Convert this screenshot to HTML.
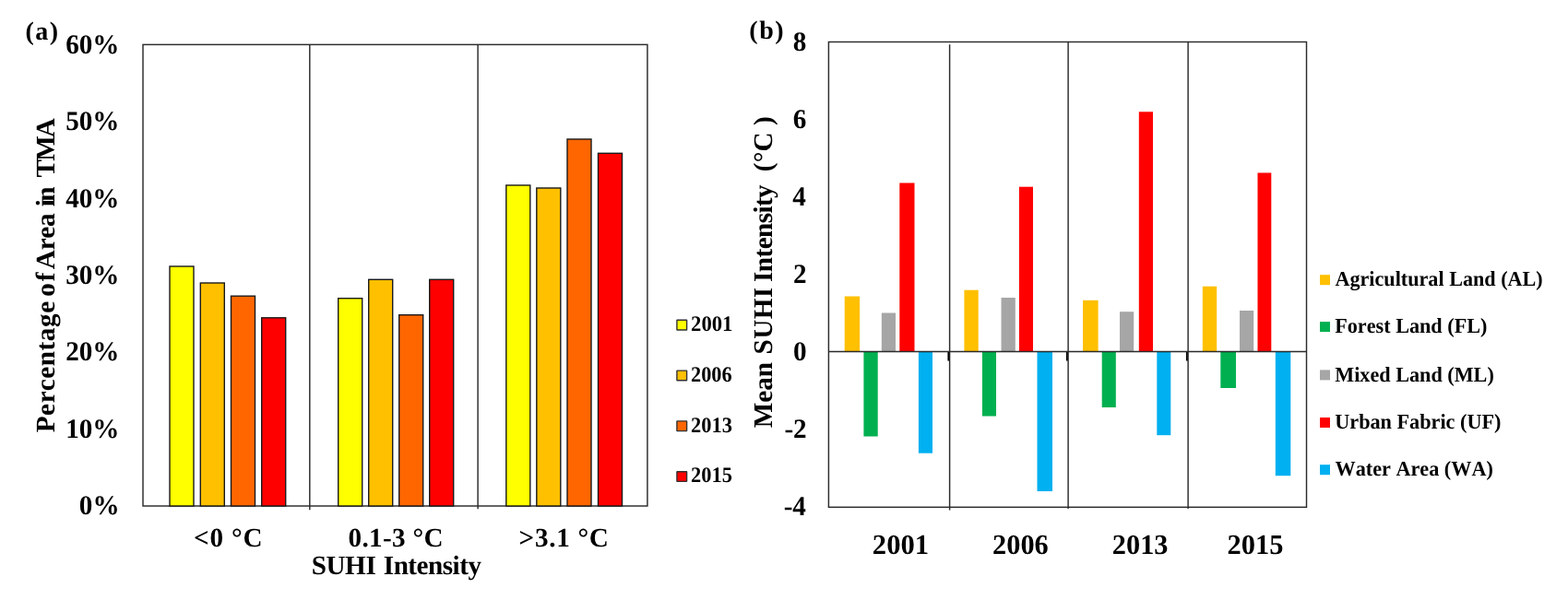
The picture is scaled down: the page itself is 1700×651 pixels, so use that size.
<!DOCTYPE html>
<html lang="en"><head><meta charset="utf-8"><title>SUHI Intensity charts</title>
<style>
html,body{margin:0;padding:0;background:#fff;}
body{width:1700px;height:651px;overflow:hidden;}
svg{display:block;}
text{font-family:"Liberation Serif","DejaVu Serif",serif;font-weight:bold;fill:#000;white-space:pre;text-rendering:geometricPrecision;}
.ln{stroke:#2b2b2b;stroke-width:1.45;fill:none;}
.bar{stroke:#1a1a1a;stroke-width:1.4;}
</style></head><body>
<svg width="1700" height="651" viewBox="0 0 1700 651">
<rect x="0" y="0" width="1700" height="651" fill="#fff"/>
<rect class="ln" x="155.0" y="48.4" width="546.9" height="500.6"/>
<line class="ln" x1="335.8" y1="48.4" x2="335.8" y2="553.3"/>
<line class="ln" x1="518.1" y1="48.4" x2="518.1" y2="552.3"/>
<rect class="bar" x="184" y="289" width="26.0" height="260.0" fill="#ffff00"/>
<rect class="bar" x="217.3" y="307" width="26.0" height="242.0" fill="#ffc000"/>
<rect class="bar" x="250.5" y="321.2" width="26.0" height="227.8" fill="#ff6600"/>
<rect class="bar" x="283.7" y="344.8" width="26.0" height="204.2" fill="#ff0000"/>
<rect class="bar" x="366.7" y="323.7" width="26.0" height="225.3" fill="#ffff00"/>
<rect class="bar" x="399.7" y="303.3" width="26.0" height="245.7" fill="#ffc000"/>
<rect class="bar" x="432.7" y="341.7" width="26.0" height="207.3" fill="#ff6600"/>
<rect class="bar" x="465.7" y="303.3" width="26.0" height="245.7" fill="#ff0000"/>
<rect class="bar" x="548.8" y="201" width="26.0" height="348.0" fill="#ffff00"/>
<rect class="bar" x="581.8" y="204" width="26.0" height="345.0" fill="#ffc000"/>
<rect class="bar" x="615" y="151" width="26.0" height="398.0" fill="#ff6600"/>
<rect class="bar" x="648.5" y="166.3" width="26.0" height="382.7" fill="#ff0000"/>
<text transform="translate(85.85,558.30) scale(0.9750,1)" style="font-size:29.9px;">0%</text>
<text transform="translate(71.22,474.87) scale(0.9750,1)" style="font-size:29.9px;">10%</text>
<text transform="translate(71.22,391.43) scale(0.9750,1)" style="font-size:29.9px;">20%</text>
<text transform="translate(71.22,308.00) scale(0.9750,1)" style="font-size:29.9px;">30%</text>
<text transform="translate(71.22,224.57) scale(0.9750,1)" style="font-size:29.9px;">40%</text>
<text transform="translate(71.22,141.13) scale(0.9750,1)" style="font-size:29.9px;">50%</text>
<text transform="translate(71.22,57.70) scale(0.9750,1)" style="font-size:29.9px;">60%</text>
<text x="27.55" y="43.20" style="font-size:28px;letter-spacing:1.475px;">(a)</text>
<text transform="translate(59.20,0) rotate(-90)" style="font-size:29.17px"><tspan x="-469.30" y="0" style="letter-spacing:0.594px">Percentage</tspan> <tspan x="-321.80" y="0" style="letter-spacing:2.000px">of</tspan> <tspan x="-292.25" y="0" style="letter-spacing:-0.017px">Area</tspan> <tspan x="-224.15" y="0" style="letter-spacing:-2.650px">in</tspan> <tspan x="-192.40" y="0" style="letter-spacing:-1.875px">TMA</tspan></text>
<text x="209.90" y="592.60" style="font-size:29.17px;letter-spacing:0.875px;">&lt;0 °C</text>
<text x="377.50" y="592.60" style="font-size:29.17px;letter-spacing:0.314px;">0.1-3 °C</text>
<text x="562.60" y="592.60" style="font-size:29.17px;letter-spacing:0.708px;">&gt;3.1 °C</text>
<text transform="translate(0,622.80)" style="font-size:29.17px"><tspan x="337.70" y="0" style="letter-spacing:-0.417px">SUHI</tspan> <tspan x="415.80" y="0" style="letter-spacing:-0.494px">Intensity</tspan></text>
<rect class="bar" x="733.9" y="347.3" width="10.7" height="10.7" rx="0.3" fill="#ffff00" style="stroke-width:1.4;stroke:#333"/>
<text transform="translate(749.05,359.00) scale(0.9525,1)" style="font-size:23.8px;">2001</text>
<rect class="bar" x="733.9" y="402.1" width="10.7" height="10.7" rx="0.3" fill="#ffc000" style="stroke-width:1.4;stroke:#333"/>
<text transform="translate(749.06,413.80) scale(0.9370,1)" style="font-size:23.8px;">2006</text>
<rect class="bar" x="733.9" y="456.9" width="10.7" height="10.7" rx="0.3" fill="#ff6600" style="stroke-width:1.4;stroke:#333"/>
<text transform="translate(749.06,469.20) scale(0.9421,1)" style="font-size:23.8px;">2013</text>
<rect class="bar" x="733.9" y="511.7" width="10.7" height="10.7" rx="0.3" fill="#ff0000" style="stroke-width:1.4;stroke:#333"/>
<text transform="translate(749.06,522.80) scale(0.9421,1)" style="font-size:23.8px;">2015</text>
<rect class="ln" x="898.4" y="45.5" width="518.1" height="504.8"/>
<rect x="915.7" y="321.5" width="16.4" height="60.0" fill="#ffc000"/>
<rect x="936.4" y="381.5" width="15.3" height="92.0" fill="#00b050"/>
<rect x="955.8" y="339.5" width="15.2" height="42.0" fill="#a6a6a6"/>
<rect x="975.3" y="198.5" width="16.2" height="183.0" fill="#ff0000"/>
<rect x="995.9" y="381.5" width="15.1" height="110.2" fill="#00b0f0"/>
<rect x="1045.4" y="314.7" width="15.3" height="66.8" fill="#ffc000"/>
<rect x="1064.9" y="381.5" width="15.1" height="70.0" fill="#00b050"/>
<rect x="1085.5" y="323" width="15.3" height="58.5" fill="#a6a6a6"/>
<rect x="1104.9" y="202.7" width="15.1" height="178.8" fill="#ff0000"/>
<rect x="1124.5" y="381.5" width="16.5" height="151.5" fill="#00b0f0"/>
<rect x="1174" y="325.8" width="16.6" height="55.7" fill="#ffc000"/>
<rect x="1194.7" y="381.5" width="15.1" height="60.5" fill="#00b050"/>
<rect x="1214" y="338.2" width="15.2" height="43.3" fill="#a6a6a6"/>
<rect x="1234.8" y="121.3" width="15.2" height="260.2" fill="#ff0000"/>
<rect x="1254.3" y="381.5" width="15.0" height="90.7" fill="#00b0f0"/>
<rect x="1303.8" y="310.7" width="15.4" height="70.8" fill="#ffc000"/>
<rect x="1323.3" y="381.5" width="16.7" height="39.5" fill="#00b050"/>
<rect x="1344" y="337" width="15.2" height="44.5" fill="#a6a6a6"/>
<rect x="1363.5" y="187.5" width="14.8" height="194.0" fill="#ff0000"/>
<rect x="1382.8" y="381.5" width="16.5" height="134.7" fill="#00b0f0"/>
<line class="ln" x1="1029.6" y1="48.3" x2="1029.6" y2="553.5"/>
<line x1="1028.3" y1="381.5" x2="1028.3" y2="391.5" stroke="#000" stroke-width="1.8"/>
<line class="ln" x1="1158.1" y1="45.5" x2="1158.1" y2="552.1"/>
<line x1="1156.8" y1="381.5" x2="1156.8" y2="391.5" stroke="#000" stroke-width="1.8"/>
<line class="ln" x1="1288.1" y1="45.5" x2="1288.1" y2="552.1"/>
<line x1="1286.8" y1="381.5" x2="1286.8" y2="391.5" stroke="#000" stroke-width="1.8"/>
<line class="ln" x1="898.4" y1="381.5" x2="1416.5" y2="381.5"/>
<text transform="translate(849.66,559.40) scale(0.9750,1)" style="font-size:29.9px;">-4</text>
<text transform="translate(850.39,475.27) scale(0.9750,1)" style="font-size:29.9px;">-2</text>
<text transform="translate(859.89,391.13) scale(0.9750,1)" style="font-size:29.9px;">0</text>
<text transform="translate(859.89,307.00) scale(0.9750,1)" style="font-size:29.9px;">2</text>
<text transform="translate(859.16,222.87) scale(0.9750,1)" style="font-size:29.9px;">4</text>
<text transform="translate(859.65,138.73) scale(0.9750,1)" style="font-size:29.9px;">6</text>
<text transform="translate(859.65,54.60) scale(0.9750,1)" style="font-size:29.9px;">8</text>
<text x="812.35" y="42.20" style="font-size:28px;letter-spacing:1.475px;">(b)</text>
<text transform="translate(836.70,0) rotate(-90)" style="font-size:29.17px"><tspan x="-464.30" y="0" style="letter-spacing:0.017px">Mean</tspan> <tspan x="-384.40" y="0" style="letter-spacing:0.417px">SUHI</tspan> <tspan x="-305.90" y="0" style="letter-spacing:-0.581px">Intensity</tspan> <tspan x="-186.15" y="0" style="letter-spacing:0.138px">(°C )</tspan></text>
<text transform="translate(945.85,601.20) scale(1.0026,1)" style="font-size:30.5px;">2001</text>
<text transform="translate(1076.06,601.20) scale(0.9940,1)" style="font-size:30.5px;">2006</text>
<text transform="translate(1205.86,601.20) scale(0.9940,1)" style="font-size:30.5px;">2013</text>
<text transform="translate(1330.55,601.20) scale(0.9983,1)" style="font-size:30.5px;">2015</text>
<rect x="1431" y="298.2" width="11" height="11" fill="#ffc000"/>
<text transform="translate(1447.46,310.30) scale(0.9672,1)" style="font-size:22.92px;font-kerning:none;">Agricultural Land (AL)</text>
<rect x="1431" y="349.1" width="11" height="11" fill="#00b050"/>
<text transform="translate(1447.22,361.20) scale(0.9686,1)" style="font-size:22.92px;font-kerning:none;">Forest Land (FL)</text>
<rect x="1431" y="401.4" width="11" height="11" fill="#a6a6a6"/>
<text transform="translate(1447.22,413.50) scale(0.9686,1)" style="font-size:22.92px;font-kerning:none;">Mixed Land (ML)</text>
<rect x="1431" y="453.0" width="11" height="11" fill="#ff0000"/>
<text transform="translate(1447.21,465.10) scale(0.9704,1)" style="font-size:22.92px;font-kerning:none;">Urban Fabric (UF)</text>
<rect x="1431" y="504.2" width="11" height="11" fill="#00b0f0"/>
<text transform="translate(1447.46,516.30) scale(0.9692,1)" style="font-size:22.92px;font-kerning:none;">Water Area (WA)</text>
</svg></body></html>
